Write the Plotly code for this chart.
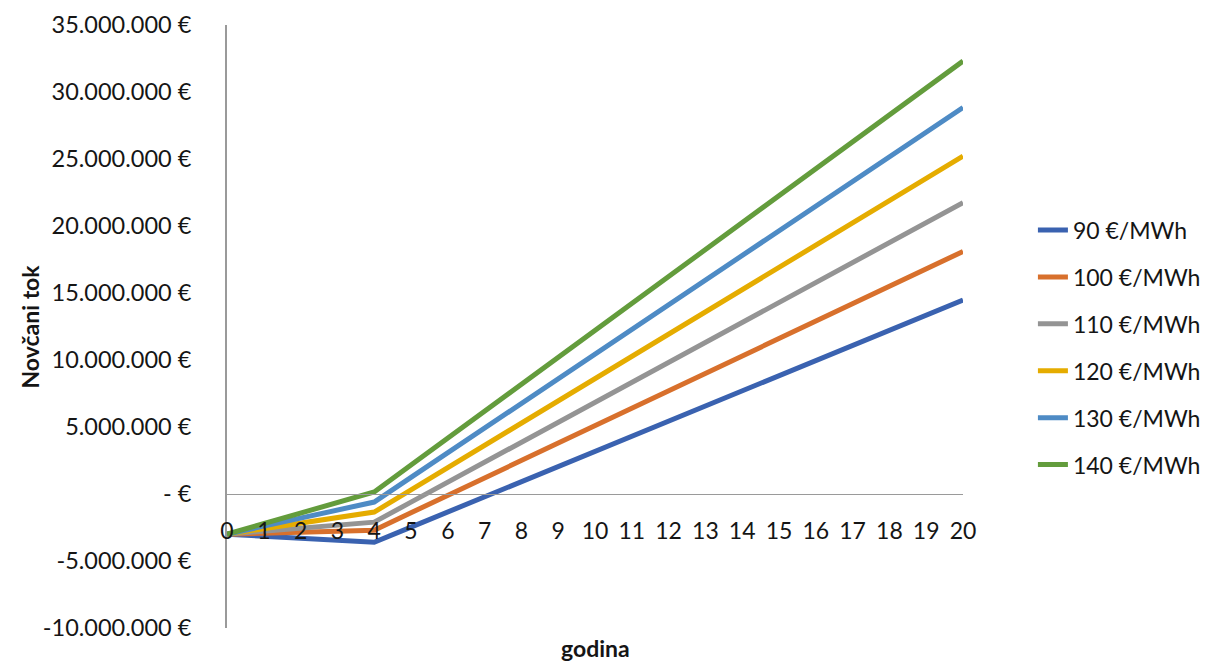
import plotly.graph_objects as go

years = list(range(0, 21))
series_names = ["90 €/MWh", "100 €/MWh", "110 €/MWh", "120 €/MWh", "130 €/MWh", "140 €/MWh"]

tok_90 = [-3.00, -3.15, -3.30, -3.45, -3.60, -2.47, -1.34, -0.21, 0.92, 2.05, 3.18,
          4.31, 5.44, 6.57, 7.70, 8.83, 9.96, 11.09, 12.22, 13.35, 14.48]
tok_100 = [-3.00, -2.93, -2.85, -2.78, -2.70, -1.40, -0.10, 1.20, 2.50, 3.80, 5.10,
           6.40, 7.70, 9.00, 10.30, 11.60, 12.90, 14.20, 15.50, 16.80, 18.10]
tok_110 = [-3.00, -2.78, -2.55, -2.33, -2.10, -0.61, 0.88, 2.37, 3.86, 5.35, 6.84,
           8.33, 9.82, 11.31, 12.80, 14.29, 15.78, 17.27, 18.76, 20.25, 21.74]
tok_120 = [-3.00, -2.59, -2.18, -1.76, -1.35, 0.31, 1.97, 3.63, 5.29, 6.95, 8.61,
           10.27, 11.93, 13.59, 15.25, 16.91, 18.57, 20.23, 21.89, 23.55, 25.21]
tok_130 = [-3.00, -2.40, -1.80, -1.20, -0.60, 1.24, 3.08, 4.92, 6.76, 8.60, 10.44,
           12.28, 14.12, 15.96, 17.80, 19.64, 21.48, 23.32, 25.16, 27.00, 28.84]
tok_140 = [-3.00, -2.21, -1.43, -0.64, 0.15, 2.16, 4.17, 6.18, 8.19, 10.20, 12.21,
           14.22, 16.23, 18.24, 20.25, 22.26, 24.27, 26.28, 28.29, 30.30, 32.31]

y_tick_vals = [-10e6, -5e6, 0, 5e6, 10e6, 15e6, 20e6, 25e6, 30e6, 35e6]
y_tick_text = ["-10.000.000 €", "-5.000.000 €", "- €", "5.000.000 €", "10.000.000 €",
               "15.000.000 €", "20.000.000 €", "25.000.000 €", "30.000.000 €", "35.000.000 €"]

colors = ["#3a62b0", "#d8702c", "#949494", "#e5ac00", "#4e8bc5", "#639c3c"]
all_series = [tok_90, tok_100, tok_110, tok_120, tok_130, tok_140]

FONT = "Lato"
TXT = "#151515"

fig = go.Figure()
for i, (name, vals, col) in enumerate(zip(series_names, all_series, colors)):
    fig.add_trace(go.Scatter(
        x=years, y=[v * 1e6 for v in vals], mode="lines", name=name,
        line=dict(color=col, width=5), legendgroup=f"g{i}",
    ))

fig.update_layout(
    width=1216, height=663,
    margin=dict(l=227, r=253, t=25, b=35, autoexpand=False),
    paper_bgcolor="white", plot_bgcolor="white",
    font=dict(family=FONT, size=23, color=TXT),
    showlegend=True,
    legend=dict(x=1.095, xanchor="left", y=0.465, yanchor="middle",
                font=dict(family=FONT, size=23, color=TXT),
                tracegroupgap=14, bgcolor="rgba(0,0,0,0)"),
    xaxis=dict(range=[0, 20], tickvals=years, ticktext=[str(y) for y in years],
               anchor="free", position=10 / 45, showline=True, linecolor="#9a9a9a",
               linewidth=1, showgrid=False, zeroline=False, ticks="",
               ticklabelstandoff=16, tickfont=dict(size=23)),
    yaxis=dict(range=[-10e6, 35e6], tickvals=y_tick_vals, ticktext=y_tick_text,
               showline=True, linecolor="#9a9a9a", linewidth=2, showgrid=False,
               zeroline=False, ticks="", ticklabelstandoff=29,
               tickfont=dict(size=23.5)),
    annotations=[
        dict(text="<b>godina</b>", x=0.5, xref="paper", y=-0.0335, yref="paper",
             yanchor="middle", xanchor="center", showarrow=False, font=dict(size=23)),
        dict(text="<b>Novčani tok</b>", x=-0.269, xref="paper", y=0.5, yref="paper",
             textangle=-90, yanchor="middle", xanchor="center", showarrow=False,
             font=dict(size=23)),
    ],
)

fig.write_html("out.html", config={"displayModeBar": False},
               post_script="document.body.style.margin='0';document.body.style.overflow='hidden';")
